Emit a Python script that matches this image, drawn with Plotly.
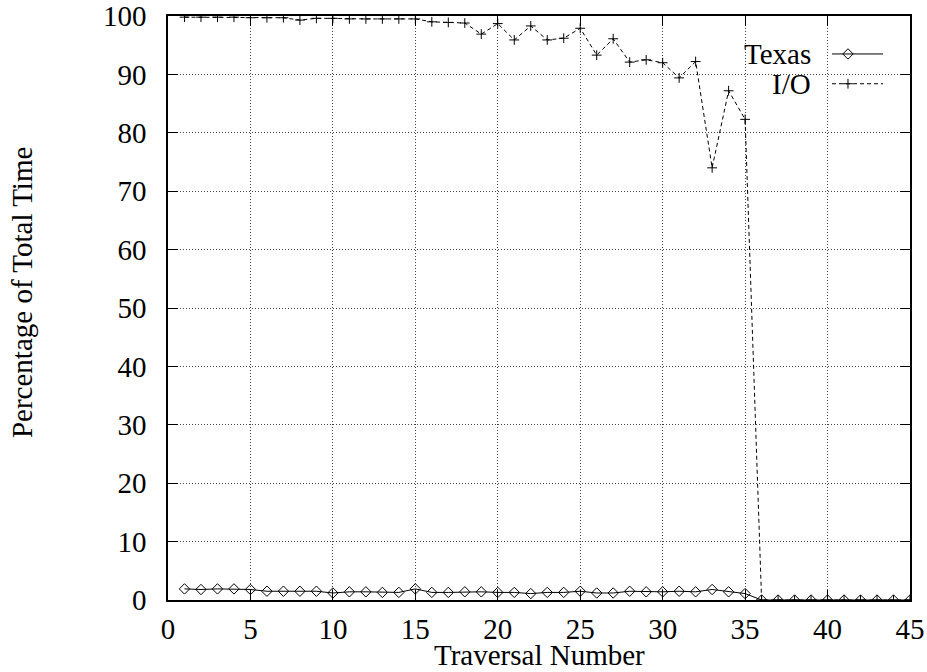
import plotly.graph_objects as go

traversal = list(range(1, 46))
texas = [1.9, 1.8, 1.9, 1.9, 1.8, 1.5, 1.5, 1.5, 1.5, 1.2,
         1.4, 1.4, 1.3, 1.3, 1.9, 1.3, 1.3, 1.4, 1.4, 1.3,
         1.3, 1.1, 1.3, 1.3, 1.5, 1.2, 1.2, 1.5, 1.4, 1.4,
         1.5, 1.4, 1.8, 1.4, 1.1, 0, 0, 0, 0, 0,
         0, 0, 0, 0, 0]
io = [99.8, 99.8, 99.8, 99.8, 99.7, 99.7, 99.7, 99.3, 99.6, 99.6,
      99.5, 99.5, 99.5, 99.5, 99.5, 99.0, 98.9, 98.8, 96.9, 98.7,
      95.9, 98.3, 95.9, 96.2, 97.9, 93.3, 96.1, 92.1, 92.5, 92.0,
      89.4, 92.2, 74.0, 87.2, 82.3, 0, 0, 0, 0, 0,
      0, 0, 0, 0, 0]
series_names = ["Texas", "I/O"]
x_ticks = list(range(0, 46, 5))
y_ticks = list(range(0, 101, 10))

FONT = "Liberation Serif"
FS = 29

fig = go.Figure()
fig.add_trace(go.Scatter(
    x=traversal, y=texas, mode="lines+markers", name=series_names[0],
    line=dict(color="black", width=1),
    marker=dict(symbol="diamond-open", size=8, color="black", line=dict(width=1, color="black")),
    showlegend=False))
fig.add_trace(go.Scatter(
    x=traversal, y=io, mode="lines+markers", name=series_names[1],
    line=dict(color="black", width=1, dash="4px,3px"),
    marker=dict(symbol="cross-thin-open", size=7, color="black", line=dict(width=1, color="black")),
    showlegend=False))

# custom gnuplot-style key (text left of sample)
key_y = [0.935, 0.884]
key_styles = [
    dict(dash="solid", symbol="diamond-open", size=8),
    dict(dash="4px,3px", symbol="cross-thin-open", size=7),
]
for name, ky, st in zip(series_names, key_y, key_styles):
    fig.add_trace(go.Scatter(
        x=[0.8949, 0.9636], y=[ky, ky], mode="lines", xaxis="x2", yaxis="y2",
        line=dict(color="black", width=1, dash=st["dash"]), showlegend=False, hoverinfo="skip"))
    fig.add_trace(go.Scatter(
        x=[0.9164], y=[ky], mode="markers", xaxis="x2", yaxis="y2",
        marker=dict(symbol=st["symbol"], size=st["size"], color="black", line=dict(width=1, color="black")),
        showlegend=False, hoverinfo="skip"))
    fig.add_annotation(x=0.869, y=ky, xref="paper", yref="paper", text=name,
                       showarrow=False, xanchor="right", yanchor="middle",
                       font=dict(family=FONT, size=FS, color="black"))

axis_common = dict(
    showline=True, linecolor="black", linewidth=1.5, mirror="ticks",
    ticks="inside", ticklen=10, tickwidth=1, tickcolor="black",
    showgrid=True, gridcolor="#444444", gridwidth=1, griddash="1px,2px",
    zeroline=False, automargin=False,
    tickfont=dict(family=FONT, size=FS, color="black"),
)
fig.update_layout(
    width=927, height=672,
    margin=dict(l=168, r=17, t=16, b=72),
    paper_bgcolor="white", plot_bgcolor="white",
    xaxis=dict(range=[0, 45], tickvals=x_ticks, ticklabelstandoff=2, **axis_common),
    yaxis=dict(range=[0, 100], tickvals=y_ticks, ticklabelstandoff=14, **axis_common),
    xaxis2=dict(range=[0, 1], overlaying="x", visible=False),
    yaxis2=dict(range=[0, 1], overlaying="y", visible=False),
    font=dict(family=FONT, size=FS, color="black"),
)
fig.add_annotation(x=0.5, y=-0.0935, xref="paper", yref="paper", text="Traversal Number",
                   showarrow=False, xanchor="center", yanchor="middle",
                   font=dict(family=FONT, size=FS, color="black"))
fig.add_annotation(x=-0.197, y=0.527, xref="paper", yref="paper", text="Percentage of Total Time",
                   showarrow=False, xanchor="center", yanchor="middle", textangle=-90,
                   font=dict(family=FONT, size=FS, color="black"))

fig.write_html("out.html")
